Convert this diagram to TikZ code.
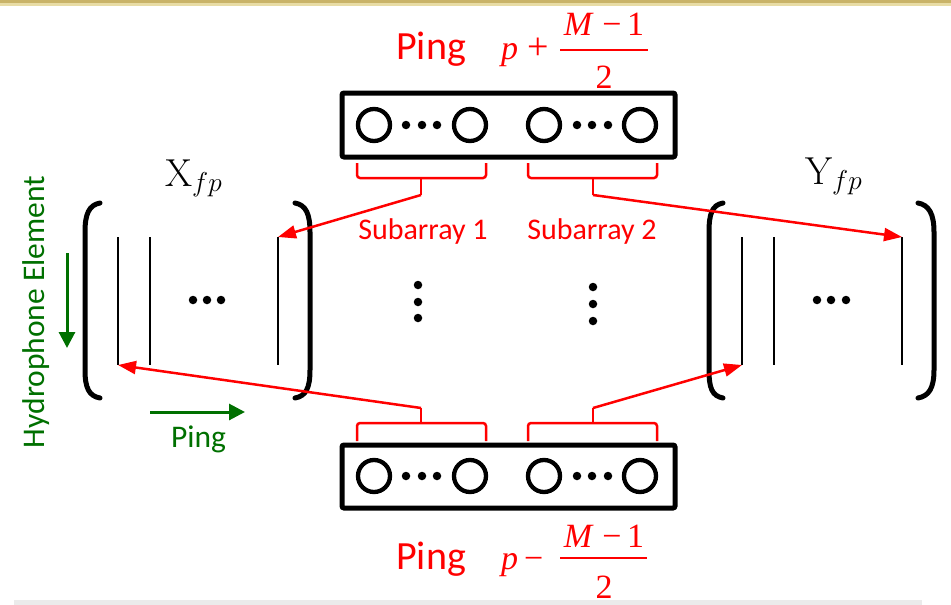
\RequirePackage{fix-cm}
\documentclass[tikz,border=0pt]{standalone}
\usepackage{fontspec}
\usetikzlibrary{arrows.meta, positioning, calc}

\newfontfamily\carlito{Carlito}
\newfontfamily\tnr{Liberation Serif}
\definecolor{hgreen}{RGB}{0,112,0}
\definecolor{slidegold}{RGB}{201,179,104}
\definecolor{slidegoldlight}{RGB}{232,220,165}

\tikzset{
  arraybox/.style={draw, line width=5pt, rounded corners=2pt, minimum width=333pt, minimum height=64pt, inner sep=0pt},
  element/.style={circle, draw, line width=4.3pt, minimum size=32pt, inner sep=0pt},
  bigdot/.style={circle, fill, minimum size=8.5pt, inner sep=0pt},
  column/.style={line width=2.5pt},
  paren/.style={line width=5pt, line cap=round},
  beam/.style={red, line width=2.5pt, -{Triangle[length=18pt,width=13pt]}},
  brace/.style={red, line width=2.5pt, rounded corners=3pt},
  flow/.style={hgreen, line width=3pt, -{Triangle[length=16pt,width=16pt]}},
  pinglabel/.style={text=red, font=\carlito\fontsize{40}{40}\selectfont, inner sep=0pt},
  sublabel/.style={text=red, font=\carlito\fontsize{30}{30}\selectfont, inner sep=0pt},
  mathlabel/.style={text=red, font=\tnr\fontsize{34}{34}\selectfont, inner sep=0pt},
  greenlabel/.style={text=hgreen, font=\carlito\fontsize{31.5}{31.5}\selectfont, inner sep=0pt},
  matlabel/.style={font=\fontsize{39}{39}\selectfont, inner sep=0pt},
}

\begin{document}
\begin{tikzpicture}[x=1pt, y=-1pt]
    \useasboundingbox (0,0) rectangle (951,605);
    % slide edges
    \fill[slidegold] (0,0) rectangle (951,3);
    \fill[slidegoldlight] (0,3) rectangle (951,6);
    \fill[black!8] (14,600) rectangle (922,605);

    % upper array, ping p+(M-1)/2
    \node[arraybox] (toparr) at (508.5,125) {};
    \foreach \n/\x in {a/374, b/470, c/544, d/640}
        \node[element] (top\n) at (\x,125) {};
    \foreach \x [count=\i] in {406, 422, 437, 577, 592, 608}
        \node[bigdot] (topdot\i) at (\x,125) {};

    % lower array, ping p-(M-1)/2
    \node[arraybox, minimum height=63pt] (botarr) at (508.5,476.5) {};
    \foreach \n/\x in {a/374, b/470, c/544, d/640}
        \node[element] (bot\n) at (\x,476) {};
    \foreach \x [count=\i] in {406, 422, 437, 577, 592, 608}
        \node[bigdot] (botdot\i) at (\x,476) {};

    % subarray braces
    \draw[brace] (357,163) -- (357,178) -- (486,178) -- (486,163);
    \draw[brace] (528,163) -- (528,178) -- (657,178) -- (657,163);
    \coordinate (stemTL) at (421,195);
    \coordinate (stemTR) at (593,195);
    \draw[brace] (421,178) -- (stemTL);
    \draw[brace] (593,178) -- (stemTR);
    \draw[brace] (357,441) -- (357,423) -- (486,423) -- (486,441);
    \draw[brace] (528,441) -- (528,423) -- (657,423) -- (657,441);
    \coordinate (stemBL) at (421,408);
    \coordinate (stemBR) at (593,408);
    \draw[brace] (421,423) -- (stemBL);
    \draw[brace] (593,423) -- (stemBR);

    \node[sublabel, anchor=base] (sub1) at (423,239) {Subarray 1};
    \node[sublabel, anchor=base] (sub2) at (592,239) {Subarray 2};

    % matrices
    \foreach \n/\x in {1/118, 2/150, 3/278} {
        \coordinate (xtop\n) at (\x,237);
        \coordinate (xbot\n) at (\x,365);
        \draw[column] (xtop\n) -- (xbot\n);
    }
    \foreach \n/\x in {1/742, 2/774, 3/902} {
        \coordinate (ytop\n) at (\x,237);
        \coordinate (ybot\n) at (\x,365);
        \draw[column] (ytop\n) -- (ybot\n);
    }
    \foreach \x [count=\i] in {193, 207, 221}
        \node[bigdot] (xdot\i) at (\x,300) {};
    \foreach \x [count=\i] in {817, 831, 846}
        \node[bigdot] (ydot\i) at (\x,300) {};

    \draw[paren] (100,203) .. controls (89,205) and (85,214) .. (85,232) -- (85,370) .. controls (85,388) and (89,396) .. (100,398);
    \draw[paren] (295,203) .. controls (306,205) and (310,214) .. (310,232) -- (310,370) .. controls (310,388) and (306,396) .. (295,398);
    \draw[paren] (723,203) .. controls (712,205) and (709,214) .. (709,232) -- (709,370) .. controls (709,388) and (712,396) .. (723,398);
    \draw[paren] (918,203) .. controls (929,205) and (934,214) .. (934,232) -- (934,370) .. controls (934,388) and (929,396) .. (918,398);

    \node[matlabel, anchor=base west] (xlabel) at (165,186) {X$_{fp}$};
    \node[matlabel, anchor=base west] (ylabel) at (805,184) {Y$_{fp}$};

    % vertical dots between arrays
    \foreach \y [count=\i] in {285, 302, 318}
        \node[bigdot] (vdotL\i) at (418,\y) {};
    \foreach \y [count=\i] in {287, 304, 321}
        \node[bigdot] (vdotR\i) at (593,\y) {};

    % beams
    \draw[beam] (stemTL) -- (xtop3);
    \draw[beam] (stemTR) -- (ytop3);
    \draw[beam] (stemBL) -- (xbot1);
    \draw[beam] (stemBR) -- (ybot1);

    % ping labels
    \node[pinglabel, anchor=base west] (pingtop) at (396,59) {Ping};
    \node[mathlabel, anchor=base west] (ptop) at (501,59) {{\itshape p}\hspace{9pt}{\fontsize{38}{38}\selectfont+}};
    \coordinate (bartopL) at (560,50);
    \coordinate (bartopR) at (648,50);
    \draw[red, line width=2pt] (bartopL) -- (bartopR);
    \node[mathlabel, anchor=base] (numtop) at (604,35) {{\itshape M}\hspace{0.3em}\char"2212\,1};
    \node[mathlabel, anchor=base] (dentop) at (604,88) {2};

    \node[pinglabel, anchor=base west] (pingbot) at (396,569) {Ping};
    \node[mathlabel, anchor=base west] (pbot) at (501,569) {{\itshape p}\hspace{6pt}\char"2212};
    \coordinate (barbotL) at (560,558);
    \coordinate (barbotR) at (647,558);
    \draw[red, line width=2pt] (barbotL) -- (barbotR);
    \node[mathlabel, anchor=base] (numbot) at (604,547) {{\itshape M}\hspace{0.3em}\char"2212\,1};
    \node[mathlabel, anchor=base] (denbot) at (604,598) {2};

    % axes legend
    \node[greenlabel, rotate=90, anchor=base] (hydro) at (45,312) {Hydrophone Element};
    \coordinate (downA) at (67,253);
    \coordinate (downB) at (67,348);
    \draw[flow] (downA) -- (downB);
    \coordinate (rightA) at (150,412);
    \coordinate (rightB) at (245,412);
    \draw[flow] (rightA) -- (rightB);
    \node[greenlabel, anchor=base west] (pinggreen) at (171,447) {Ping};
\end{tikzpicture}
\end{document}
